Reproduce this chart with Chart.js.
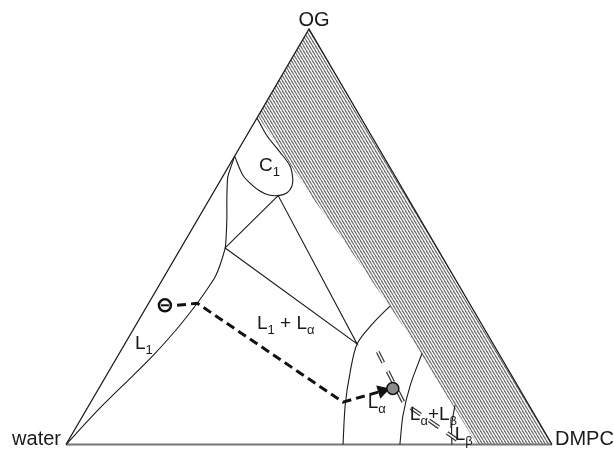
<!DOCTYPE html>
<html>
<head>
<meta charset="UTF-8">
<title>Diagrama de fases</title>
<script src="https://cdn.jsdelivr.net/npm/chart.js"></script>
<style>
  body { margin: 0; background: #fff; }
  canvas { display: block; }
</style>
</head>
<body>
<canvas id="diagrama" width="614" height="453"></canvas>
<script>
// composicoes em % [DMPC, OG]; agua = 100 - DMPC - OG
const cantos = ['water', 'DMPC', 'OG'];
const arestaEsqDir = [[0, 0], [0, 100], [100, 0]];
const arestaBase = [[0, 0], [100, 0]];
const hachura = [[0, 100], [0, 79], [21, 59.4], [33, 48.7], [55.7, 28], [84.6, 0], [100, 0]];
const curvaL1 = [[0, 0], [2.6, 8.8], [5.5, 16.6], [7.2, 21.4], [8.9, 27.8], [10, 34], [10.35, 37.3],
                 [10.5, 40.4], [10.1, 43.2], [9.1, 47.3], [8, 49.9], [5.8, 54.6], [3.4, 59.4],
                 [1.2, 64.1], [0.85, 65.3], [0, 69.4]];
const curvaC1 = [[0, 69.4], [4, 64.8], [7, 62.5], [9.4, 61], [11.5, 60.1], [13.7, 59.9], [15.2, 60.6],
                 [15.4, 62.2], [14.6, 64.1], [12.6, 67], [8.7, 70.5], [4.2, 74.3], [0, 78.6]];
const triangulo3 = [[9.1, 47.3], [13.7, 59.9], [47.8, 24.2], [9.1, 47.3]];
const limiteLa = [[50, 33.3], [48.6, 29.2], [47.8, 24.2], [49.8, 17.3], [52.7, 9.5], [57, 0]];
const limiteLaLb = [[62.3, 21.9], [63.7, 14.3], [65.8, 7.1], [68.7, 0]];
const limiteLb = [[75.3, 9.5], [77, 4.75], [79.4, 0]];
const linhaAmarracao = [[53, 22.3], [64.5, 10], [81.5, 0.2]];
const caminho = [[6.1, 33.5], [10, 34], [51.9, 10.2], [58.4, 12.8]];
const pontoInicial = [[3.6, 33.5]];
const pontaSeta = [[58.6, 12.9]];
const pontoFinal = [[60.5, 13.5]];

const rotulos = [
  { pos: [2.7, 23], partes: [['L', 0], ['1', 1]] },
  { pos: [6.8, 65.8], partes: [['C', 0], ['1', 1]] },
  { pos: [25.4, 27.8], partes: [['L', 0], ['1', 1], [' + ', 0], ['L', 0], ['α', 1]] },
  { pos: [57.7, 8.8], partes: [['L', 0], ['α', 1]] },
  { pos: [67.8, 5.9], partes: [['L', 0], ['α', 1], ['+', 0], ['L', 0], ['β', 1]] },
  { pos: [79.4, 1.2], partes: [['L', 0], ['β', 1]] }
];

const R3 = Math.sqrt(3) / 2;
function xy(p) {
  return { x: (p[0] + p[1] / 2) / 100, y: p[1] * R3 / 100 };
}

function padraoHachura() {
  const t = document.createElement('canvas');
  t.width = 3; t.height = 5;
  const c = t.getContext('2d');
  c.fillStyle = '#fff';
  c.fillRect(0, 0, 3, 5);
  c.strokeStyle = '#707070';
  c.lineWidth = 1.2;
  for (let k = -1; k <= 1; k++) {
    c.beginPath();
    c.moveTo(k * 3, 0);
    c.lineTo(k * 3 + 3, 5);
    c.stroke();
  }
  return c.createPattern(t, 'repeat');
}

function linha(dados, extra) {
  return Object.assign({
    data: dados.map(xy),
    showLine: true,
    borderColor: '#1a1a1a',
    borderWidth: 1.1,
    pointRadius: 0,
    tension: 0,
    fill: false,
    clip: false
  }, extra);
}

const textoPlugin = {
  id: 'textos',
  afterDraw(chart) {
    const ctx = chart.ctx;
    const sx = chart.scales.x, sy = chart.scales.y;
    const px = p => { const q = xy(p); return [sx.getPixelForValue(q.x), sy.getPixelForValue(q.y)]; };
    ctx.save();
    ctx.fillStyle = '#1a1a1a';
    ctx.textBaseline = 'alphabetic';

    // vertices
    ctx.font = '20px "Liberation Sans", Arial, sans-serif';
    const [ax, ay] = px([0, 0]);
    const [bx, by] = px([100, 0]);
    const [cx, cy] = px([0, 100]);
    ctx.textAlign = 'right';
    ctx.fillText(cantos[0], ax - 5, ay);
    ctx.textAlign = 'left';
    ctx.fillText(cantos[1], bx + 3, by);
    ctx.textAlign = 'center';
    ctx.fillText(cantos[2], cx + 5, cy - 3);

    // regioes
    ctx.textAlign = 'left';
    rotulos.forEach(r => {
      let [x, y] = px(r.pos);
      r.partes.forEach(([txt, sub]) => {
        ctx.font = (sub ? '13px' : '19px') + ' "Liberation Sans", Arial, sans-serif';
        ctx.fillText(txt, x, sub ? y + 5 : y);
        x += ctx.measureText(txt).width;
      });
    });
    ctx.restore();
  }
};

new Chart(document.getElementById('diagrama'), {
  type: 'scatter',
  data: {
    datasets: [
      Object.assign(linha(pontoFinal), { showLine: false, pointRadius: 6, pointBackgroundColor: '#8a8a8a',
        pointBorderColor: '#111', pointBorderWidth: 1.5, order: 0 }),
      Object.assign(linha(pontaSeta), { showLine: false, pointStyle: 'triangle', pointRadius: 7, rotation: 73,
        pointBackgroundColor: '#111', pointBorderColor: '#111', order: 1 }),
      Object.assign(linha(pontoInicial), { showLine: false, pointStyle: 'line', pointRadius: 4,
        pointBorderColor: '#111', pointBorderWidth: 2, order: 0 }),
      Object.assign(linha(pontoInicial), { showLine: false, pointRadius: 6, pointBackgroundColor: '#fff',
        pointBorderColor: '#111', pointBorderWidth: 2.5, order: 1 }),
      linha(caminho, { borderColor: '#111', borderWidth: 3, borderDash: [9, 5], order: 2 }),
      linha(linhaAmarracao, { borderColor: '#fff', borderWidth: 1.5, borderDash: [12, 10], order: 3 }),
      linha(linhaAmarracao, { borderColor: '#3a3a3a', borderWidth: 4, borderDash: [12, 10], order: 4 }),
      linha(curvaL1, { tension: 0.2, order: 5 }),
      linha(curvaC1, { tension: 0.35, order: 5 }),
      linha(triangulo3, { order: 5 }),
      linha(limiteLa, { tension: 0.3, order: 5 }),
      linha(limiteLaLb, { tension: 0.3, order: 5 }),
      linha(limiteLb, { tension: 0.3, order: 5 }),
      linha(arestaEsqDir, { borderWidth: 1.3, order: 6 }),
      linha(arestaBase, { borderColor: '#777', borderWidth: 2, order: 6 }),
      linha(hachura, { borderWidth: 0, backgroundColor: padraoHachura(), fill: 'shape', order: 10 })
    ]
  },
  options: {
    responsive: false,
    animation: false,
    devicePixelRatio: 1,
    layout: { padding: { left: 66, right: 62, top: 29, bottom: 3 } },
    scales: {
      x: { type: 'linear', min: 0, max: 1, display: false },
      y: { type: 'linear', min: 0, max: R3, display: false }
    },
    plugins: { legend: { display: false }, tooltip: { enabled: false } }
  },
  plugins: [textoPlugin]
});
</script>
</body>
</html>
